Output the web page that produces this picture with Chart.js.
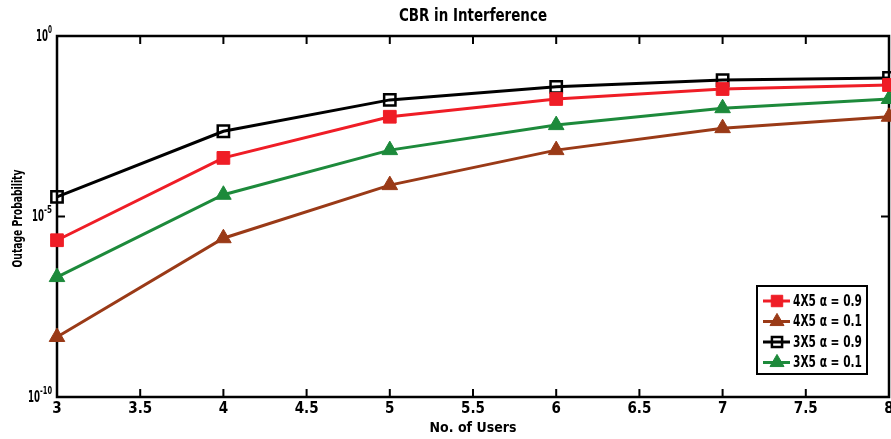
<!DOCTYPE html>
<html>
<head>
<meta charset="utf-8">
<script src="https://cdn.jsdelivr.net/npm/chart.js@4.4.1/dist/chart.umd.min.js"></script>
<style>
  html, body { margin: 0; padding: 0; background: #fff; overflow: hidden; }
  #wrap { width: 891px; height: 439px; position: relative; }
</style>
</head>
<body>
<div id="wrap"><canvas id="chart"></canvas></div>
<script>
// data (outage probability, log scale)
const users = [3, 4, 5, 6, 7, 8];
const out4x5a09 = [2.2e-6, 4.2e-4, 5.8e-3, 1.8e-2, 3.4e-2, 4.4e-2];
const out4x5a01 = [4.6e-9, 2.5e-6, 7.4e-5, 6.9e-4, 2.8e-3, 5.8e-3];
const out3x5a09 = [3.5e-5, 2.3e-3, 1.7e-2, 3.9e-2, 6.0e-2, 6.9e-2];
const out3x5a01 = [2.1e-7, 4.0e-5, 6.9e-4, 3.4e-3, 1.0e-2, 1.8e-2];
const seriesLabels = ['4X5 \u03B1 = 0.9', '4X5 \u03B1 = 0.1', '3X5 \u03B1 = 0.9', '3X5 \u03B1 = 0.1'];
const xTicks = [3, 3.5, 4, 4.5, 5, 5.5, 6, 6.5, 7, 7.5, 8];
const yTicks = [1e-10, 1e-5, 1];

const FONT = "'DejaVu Sans Condensed', 'DejaVu Sans', sans-serif";

const toPoints = (vals) => users.map((u, i) => ({ x: u, y: vals[i] }));

// draw text squeezed to a given width, to mimic the narrow face of the original
function narrowText(ctx, text, x, y, width, align) {
  const w = ctx.measureText(text).width;
  const k = Math.min(1, width / w);
  ctx.save();
  ctx.translate(x, y);
  ctx.scale(k, 1);
  ctx.textAlign = align;
  ctx.fillText(text, 0, 0);
  ctx.restore();
  return w * k;
}

const framePlugin = {
  id: 'frame',
  beforeDatasetsDraw(chart) {
    const { ctx, chartArea: a, scales: { x, y } } = chart;
    ctx.save();
    ctx.strokeStyle = '#000';
    ctx.lineWidth = 2.5;
    ctx.strokeRect(a.left, a.top, a.right - a.left, a.bottom - a.top);
    ctx.lineWidth = 2;
    ctx.beginPath();
    xTicks.slice(1, -1).forEach(t => {
      const px = x.getPixelForValue(t);
      ctx.moveTo(px, a.top); ctx.lineTo(px, a.top + 8);
      ctx.moveTo(px, a.bottom); ctx.lineTo(px, a.bottom - 8);
    });
    yTicks.slice(1, -1).forEach(t => {
      const py = y.getPixelForValue(t);
      ctx.moveTo(a.left, py); ctx.lineTo(a.left + 8, py);
      ctx.moveTo(a.right, py); ctx.lineTo(a.right - 8, py);
    });
    ctx.stroke();

    ctx.fillStyle = '#000';
    ctx.textBaseline = 'middle';
    // title over the plot area
    ctx.font = 'bold 18px ' + FONT;
    narrowText(ctx, 'CBR in Interference', (a.left + a.right) / 2, 16, 148, 'center');

    // y tick labels as 10 with a raised exponent
    yTicks.forEach(t => {
      const py = y.getPixelForValue(t);
      const exp = String(Math.round(Math.log10(t)));
      ctx.font = 'bold 10px ' + FONT;
      const ew = narrowText(ctx, exp, a.left - 5, py - 6, exp.length * 4, 'right');
      ctx.font = 'bold 15px ' + FONT;
      narrowText(ctx, '10', a.left - 5 - ew, py + 1, 12, 'right');
    });

    // y axis title, rotated
    ctx.save();
    ctx.translate(18, (a.top + a.bottom) / 2 + 2);
    ctx.rotate(-Math.PI / 2);
    ctx.font = 'bold 14px ' + FONT;
    narrowText(ctx, 'Outage Probability', 0, 0, 98, 'center');
    ctx.restore();
    ctx.restore();
  },
  afterDatasetsDraw(chart) {
    const { ctx } = chart;
    const box = { left: 757, top: 286, width: 110, height: 88 };
    ctx.save();
    ctx.fillStyle = '#fff';
    ctx.fillRect(box.left, box.top, box.width, box.height);
    ctx.strokeStyle = '#000';
    ctx.lineWidth = 2;
    ctx.strokeRect(box.left, box.top, box.width, box.height);
    chart.data.datasets.forEach((ds, i) => {
      const cy = box.top + 15 + i * 20.5;
      ctx.strokeStyle = ds.borderColor;
      ctx.lineWidth = 3;
      ctx.beginPath();
      ctx.moveTo(box.left + 6, cy); ctx.lineTo(box.left + 33, cy);
      ctx.stroke();
      ctx.fillStyle = ds.pointBackgroundColor;
      ctx.strokeStyle = ds.pointBorderColor;
      ctx.lineWidth = ds.pointBorderWidth;
      Chart.helpers.drawPoint(ctx, {
        pointStyle: ds.pointStyle, radius: ds.pointRadius * 0.9, borderWidth: ds.pointBorderWidth, rotation: 0
      }, box.left + 20, cy);
      ctx.fillStyle = '#000';
      ctx.font = 'bold 15px ' + FONT;
      ctx.textBaseline = 'middle';
      narrowText(ctx, seriesLabels[i], box.left + 36, cy + 1, 69, 'left');
    });
    ctx.restore();
  }
};

function makeSet(label, vals, color, style, fill, radius, bw) {
  return {
    label,
    data: toPoints(vals),
    borderColor: color,
    borderWidth: 3,
    pointStyle: style,
    pointRadius: radius,
    pointHoverRadius: radius,
    pointBackgroundColor: fill,
    pointBorderColor: color,
    pointBorderWidth: bw,
    tension: 0,
    clip: false
  };
}

new Chart(document.getElementById('chart'), {
  type: 'line',
  data: {
    datasets: [
      makeSet(seriesLabels[0], out4x5a09, '#ef1d26', 'rect', '#ef1d26', 9, 1),
      makeSet(seriesLabels[1], out4x5a01, '#9a3a17', 'triangle', '#9a3a17', 9, 1),
      makeSet(seriesLabels[2], out3x5a09, '#000000', 'rect', 'transparent', 8, 2.5),
      makeSet(seriesLabels[3], out3x5a01, '#1d8a3b', 'triangle', '#1d8a3b', 9, 1)
    ]
  },
  options: {
    responsive: true,
    maintainAspectRatio: false,
    animation: false,
    layout: { autoPadding: false, padding: { left: 0, right: 2, top: 36, bottom: 0 } },
    plugins: {
      legend: { display: false },
      title: { display: false },
      tooltip: { enabled: false }
    },
    scales: {
      x: {
        type: 'linear',
        min: 3,
        max: 8,
        afterBuildTicks: (s) => { s.ticks = xTicks.map(v => ({ value: v })); },
        afterFit: (s) => { s.height = 42; s.paddingLeft = 0; s.paddingRight = 0; },
        grid: { display: false, drawTicks: false },
        border: { display: false },
        ticks: {
          color: '#000',
          padding: 3,
          maxRotation: 0,
          font: { family: FONT, size: 15, weight: 'bold' },
          callback: (v) => String(v)
        },
        title: {
          display: true,
          text: 'No. of Users',
          color: '#000',
          padding: { top: 0, bottom: 2 },
          font: { family: FONT, size: 14, weight: 'bold' }
        }
      },
      y: {
        type: 'logarithmic',
        min: 1e-10,
        max: 1,
        afterBuildTicks: (s) => { s.ticks = yTicks.map(v => ({ value: v })); },
        afterFit: (s) => { s.width = 57; s.paddingTop = 0; s.paddingBottom = 0; },
        grid: { display: false, drawTicks: false },
        border: { display: false },
        ticks: { display: false }
      }
    }
  },
  plugins: [framePlugin]
});
</script>
</body>
</html>
